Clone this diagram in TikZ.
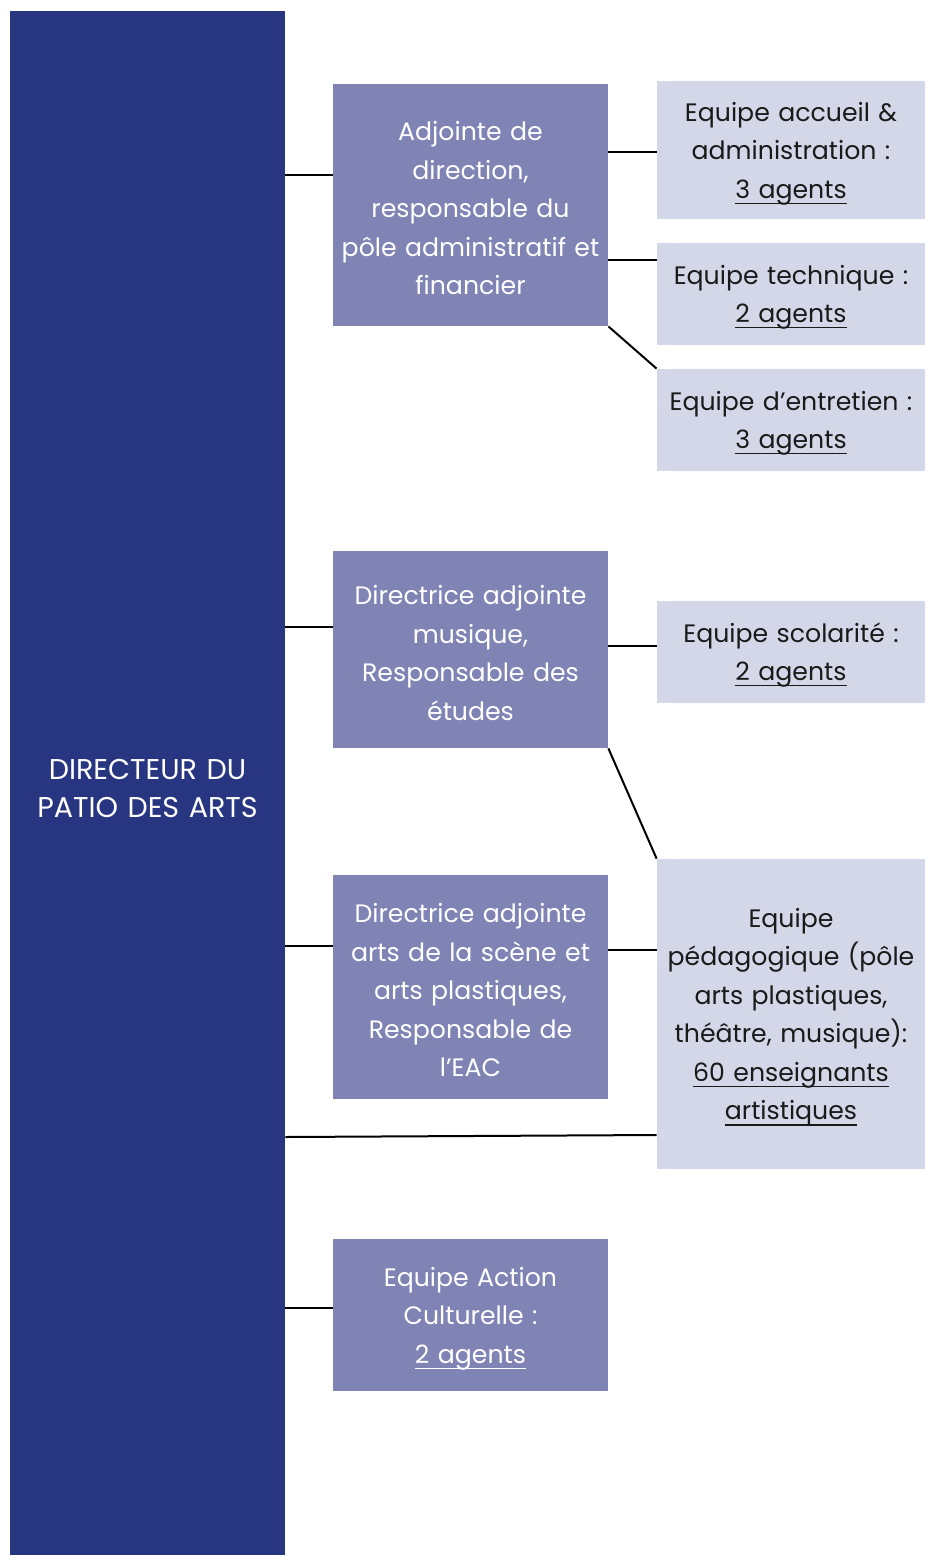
\documentclass[tikz,border=0pt]{standalone}
\usepackage{fontspec}
\setmainfont{Poppins}
\definecolor{dirblue}{HTML}{283580}
\definecolor{headblue}{HTML}{7F84B5}
\definecolor{teamblue}{HTML}{D4D7E8}
\definecolor{teamtext}{HTML}{1A1A1A}
% underline set at a fixed depth, as in the staff counts
\newcommand\countline[1]{\leavevmode\setbox0\hbox{#1}\rlap{\rule[-2.8pt]{\wd0}{0.6pt}}\box0}

\begin{document}
\begin{tikzpicture}[x=0.5pt,y=-0.5pt,
    every node/.style={align=center,inner sep=0pt,font=\fontsize{12.6}{19.25}\selectfont,
        execute at begin node={\rule{0pt}{13pt}}},
    dir node/.style={fill=dirblue,text=white,minimum width=137.5pt,minimum height=772pt,text width=137.5pt,
        font=\fontsize{14.3}{19}\selectfont,execute at begin node={\rule{0pt}{16pt}}},
    head node/.style={fill=headblue,text=white,minimum width=137.5pt,text width=137.5pt},
    team node/.style={fill=teamblue,text=teamtext,minimum width=134pt,text width=134pt}]
    \useasboundingbox (0,0) rectangle (925,1555);

    \node[dir node] at (147.5,783) (dir) {DIRECTEUR DU\\PATIO DES ARTS};

    \node[head node, minimum height=121pt] at (470.5,205) (adm) {Adjointe de\\direction,\\responsable du\\pôle administratif et\\financier};
    \node[head node, minimum height=98.5pt] at (470.5,649.5) (mus) {Directrice adjointe\\musique,\\Responsable des\\études};
    \node[head node, minimum height=112pt] at (470.5,987) (scn) {Directrice adjointe\\arts de la scène et\\arts plastiques,\\Responsable de\\l’EAC};
    \node[head node, minimum height=76pt] at (470.5,1315) (act) {Equipe Action\\Culturelle :\\\countline{2 agents}};

    \node[team node, minimum height=69pt] at (791,150) (acc) {Equipe accueil \&\\administration :\\\countline{3 agents}};
    \node[team node, minimum height=51pt] at (791,294) (tec) {Equipe technique :\\\countline{2 agents}};
    \node[team node, minimum height=51pt] at (791,420) (ent) {Equipe d’entretien :\\\countline{3 agents}};
    \node[team node, minimum height=51pt] at (791,652) (sco) {Equipe scolarité :\\\countline{2 agents}};
    \node[team node, minimum height=155pt] at (791,1014) (ped) {Equipe\\pédagogique (pôle\\arts plastiques,\\théâtre, musique):\\\countline{60 enseignants}\\\countline{artistiques}};

    \draw[line width=1pt]
        (dir.east |- 0,175) edge (adm.west |- 0,175)
        (dir.east |- 0,627) edge (mus.west |- 0,627)
        (dir.east |- 0,946) edge (scn.west |- 0,946)
        (dir.east |- 0,1137) edge (ped.west |- 0,1135)
        (dir.east |- 0,1308) edge (act.west |- 0,1308)
        (adm.east |- 0,152) edge (acc.west |- 0,152)
        (adm.east |- 0,260) edge (tec.west |- 0,260)
        (adm.south east) edge (ent.north west)
        (mus.east |- 0,646) edge (sco.west |- 0,646)
        (mus.south east) edge (ped.north west)
        (scn.east |- 0,950) edge (ped.west |- 0,950)
        ;
\end{tikzpicture}
\end{document}
